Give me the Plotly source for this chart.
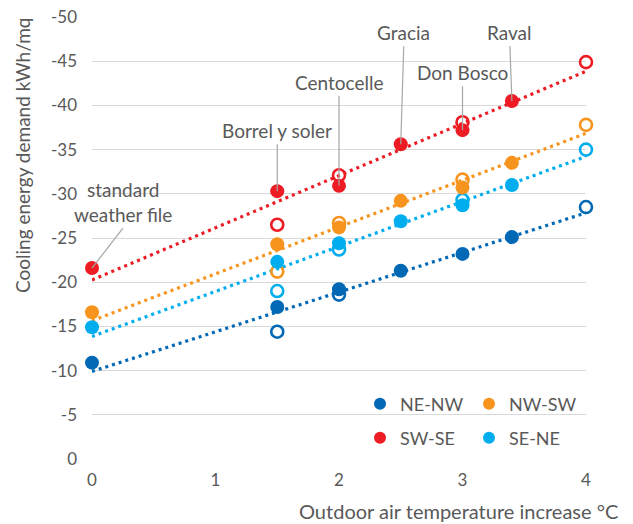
import numpy as np
import plotly.graph_objects as go

# ---- data ----
series_names = ["NE-NW", "NW-SW", "SW-SE", "SE-NE"]
series_colors = ["#0068B5", "#F7941D", "#ED1C24", "#00AEEF"]

filled_x = [0, 1.5, 2, 2.5, 3, 3.4]
nenw_filled = [-10.9, -17.2, -19.2, -21.3, -23.2, -25.1]
nwsw_filled = [-16.6, -24.3, -26.2, -29.2, -30.7, -33.5]
swse_filled = [-21.6, -30.3, -30.9, -35.6, -37.2, -40.5]
sene_filled = [-14.9, -22.3, -24.4, -26.9, -28.7, -31.0]

nenw_open_x = [1.5, 2, 4]
nenw_open = [-14.4, -18.6, -28.5]
nwsw_open_x = [1.5, 2, 3, 4]
nwsw_open = [-21.2, -26.7, -31.6, -37.8]
swse_open_x = [1.5, 2, 3, 4]
swse_open = [-26.5, -32.1, -38.1, -44.9]
sene_open_x = [1.5, 2, 3, 4]
sene_open = [-19.0, -23.7, -29.3, -35.0]

# labels on SW-SE series (index into filled points)
label_texts = ["standard<br>weather file", "Borrel y soler", "Centocelle", "Gracia", "Don Bosco", "Raval"]

y_tickvals = [0, -5, -10, -15, -20, -25, -30, -35, -40, -45, -50]
y_ticktext = ["0", "-5", "-10", "-15", "-20", "-25", "-30", "-35", "-40", "-45", "-50"]
x_tickvals = [0, 1, 2, 3, 4]

FONT = "Lato"
GREY = "#595959"

filled = [nenw_filled, nwsw_filled, swse_filled, sene_filled]
open_x = [nenw_open_x, nwsw_open_x, swse_open_x, sene_open_x]
open_y = [nenw_open, nwsw_open, swse_open, sene_open]

L, R, T, B = 92, 47, 17, 65
W, H = 633, 524
pw = W - L - R
ph = H - T - B

fig = go.Figure()

# trendlines (fit on all points of each series)
for i in range(4):
    xs = np.array(filled_x + open_x[i], dtype=float)
    ys = np.array(filled[i] + open_y[i], dtype=float)
    m, b = np.polyfit(xs, ys, 1)
    xl = np.array([0.0, 4.0])
    fig.add_trace(go.Scatter(
        x=xl, y=m * xl + b, mode="lines", showlegend=False,
        line=dict(color=series_colors[i], width=3.2, dash="3px,4px"),
        hoverinfo="skip", cliponaxis=False))

# open markers
for i in range(4):
    fig.add_trace(go.Scatter(
        x=open_x[i], y=open_y[i], mode="markers", showlegend=False,
        marker=dict(symbol="circle-open", size=12, color=series_colors[i],
                    line=dict(width=2.6, color=series_colors[i])),
        cliponaxis=False))

# filled markers
legend_ids = ["legend", "legend", "legend2", "legend2"]
for i in range(4):
    fig.add_trace(go.Scatter(
        x=filled_x, y=filled[i], mode="markers", name=series_names[i],
        marker=dict(size=14, color=series_colors[i]),
        legend=legend_ids[i], cliponaxis=False))

# annotations with leader lines for SW-SE filled points
offsets = [(31, -40), (0, -47), (0, -90), (3, -98), (0, -44), (-2, -55)]
for k, (txt, (ax, ay)) in enumerate(zip(label_texts, offsets)):
    fig.add_annotation(
        x=filled_x[k], y=swse_filled[k], xref="x", yref="y",
        text=txt, showarrow=True, arrowhead=0, arrowwidth=1.2,
        arrowcolor="#A6A6A6", ax=ax, ay=ay, standoff=0,
        font=dict(family=FONT, size=19, color=GREY),
        yanchor="bottom", xanchor="center", borderpad=1)

# axis titles as annotations (pixel positions converted to paper coords)
fig.add_annotation(
    x=(620 - L) / pw, y=(H - B - 511) / ph, xref="paper", yref="paper",
    xanchor="right", yanchor="middle",
    text="Outdoor air temperature increase °C",
    showarrow=False, font=dict(family=FONT, size=20, color=GREY))
fig.add_annotation(
    x=(22 - L) / pw, y=(H - B - 155) / ph, xref="paper", yref="paper",
    xanchor="center", yanchor="middle",
    text="Cooling energy demand kWh/mq", showarrow=False, textangle=-90,
    font=dict(family=FONT, size=19, color=GREY))

leg_common = dict(orientation="h", xanchor="left", yanchor="middle",
                  bgcolor="rgba(0,0,0,0)", entrywidth=64, entrywidthmode="pixels",
                  font=dict(family=FONT, size=18, color=GREY), itemsizing="constant",
                  itemwidth=30)

fig.update_layout(
    width=W, height=H,
    margin=dict(l=L, r=R, t=T, b=B, autoexpand=False),
    paper_bgcolor="white", plot_bgcolor="white",
    font=dict(family=FONT, size=17, color=GREY),
    showlegend=True,
    xaxis=dict(range=[0, 4], tickvals=x_tickvals, showgrid=False, zeroline=False,
               showline=False, ticks="", ticklabelstandoff=9,
               tickfont=dict(family=FONT, size=17, color=GREY)),
    yaxis=dict(range=[0, -50], tickvals=y_tickvals, ticktext=y_ticktext,
               showgrid=True, gridcolor="#D9D9D9", gridwidth=1.3, zeroline=False,
               showline=False, ticks="", ticklabelstandoff=14,
               tickfont=dict(family=FONT, size=17, color=GREY)),
    legend=dict(x=(360 - L) / pw, y=(H - B - 404) / ph, **leg_common),
    legend2=dict(x=(360 - L) / pw, y=(H - B - 438) / ph, **leg_common),
)

fig.write_html("out.html", config={"displayModeBar": False},
               post_script="document.body.style.margin='0';document.body.style.padding='0';")
